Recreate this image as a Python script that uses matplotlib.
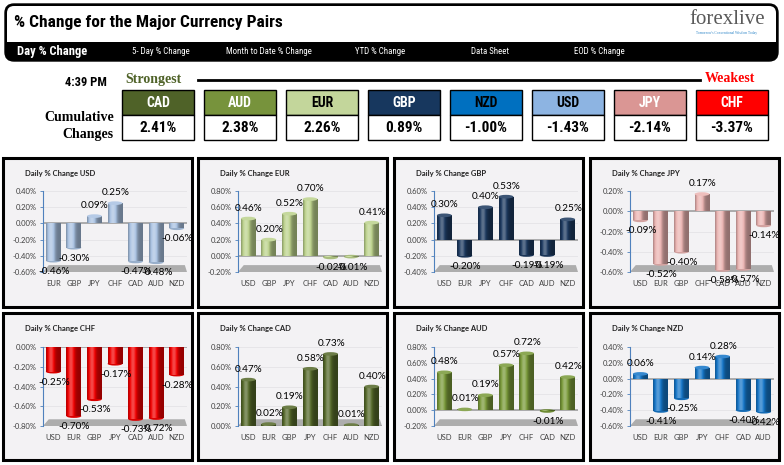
import matplotlib
matplotlib.use('Agg')
import matplotlib.pyplot as plt
import matplotlib.colors as mcolors
from matplotlib.patches import Rectangle, FancyBboxPatch, Polygon, Ellipse
from matplotlib.ticker import MultipleLocator, FuncFormatter
import numpy as np

# cumulative changes, strongest -> weakest
rank_ccy = ['CAD', 'AUD', 'EUR', 'GBP', 'NZD', 'USD', 'JPY', 'CHF']
rank_chg = [2.41, 2.38, 2.26, 0.89, -1.00, -1.43, -2.14, -3.37]

# daily % change of each currency vs the others
usd_cats = ['EUR', 'GBP', 'JPY', 'CHF', 'CAD', 'AUD', 'NZD']
usd_vals = [-0.46, -0.30, 0.09, 0.25, -0.47, -0.48, -0.06]
eur_cats = ['USD', 'GBP', 'JPY', 'CHF', 'CAD', 'AUD', 'NZD']
eur_vals = [0.46, 0.20, 0.52, 0.70, -0.02, -0.01, 0.41]
gbp_cats = ['USD', 'EUR', 'JPY', 'CHF', 'CAD', 'AUD', 'NZD']
gbp_vals = [0.30, -0.20, 0.40, 0.53, -0.19, -0.19, 0.25]
jpy_cats = ['USD', 'EUR', 'GBP', 'CHF', 'CAD', 'AUD', 'NZD']
jpy_vals = [-0.09, -0.52, -0.40, 0.17, -0.58, -0.57, -0.14]
chf_cats = ['USD', 'EUR', 'GBP', 'JPY', 'CAD', 'AUD', 'NZD']
chf_vals = [-0.25, -0.70, -0.53, -0.17, -0.73, -0.72, -0.28]
cad_cats = ['USD', 'EUR', 'GBP', 'JPY', 'CHF', 'AUD', 'NZD']
cad_vals = [0.47, 0.02, 0.19, 0.58, 0.73, 0.01, 0.40]
aud_cats = ['USD', 'EUR', 'GBP', 'JPY', 'CHF', 'CAD', 'NZD']
aud_vals = [0.48, 0.01, 0.19, 0.57, 0.72, -0.01, 0.42]
nzd_cats = ['USD', 'EUR', 'GBP', 'JPY', 'CHF', 'CAD', 'AUD']
nzd_vals = [0.06, -0.41, -0.25, 0.14, 0.28, -0.40, -0.42]

ccy_color = {'CAD': '#4F6228', 'AUD': '#77933C', 'EUR': '#C3D69B', 'GBP': '#17375E',
             'NZD': '#0070C0', 'USD': '#8DB4E2', 'JPY': '#DA9694', 'CHF': '#FF0000'}
bar_color = {'USD': '#A9C2E2', 'EUR': '#BCD28C', 'GBP': '#1D3A60', 'JPY': '#EBB4B2',
             'CHF': '#F20000', 'CAD': '#55692A', 'AUD': '#7A9A3A', 'NZD': '#1576C8'}
white_head = ['CAD', 'AUD', 'GBP', 'JPY', 'CHF']

NARROW = ['Liberation Sans Narrow', 'Roboto Condensed', 'Open Sans Condensed', 'Roboto', 'DejaVu Sans']
SERIF = ['Liberation Serif', 'DejaVu Serif']
SMALL = ['Lato', 'DejaVu Sans']

W, H = 784, 465
fig = plt.figure(figsize=(W / 100, H / 100), dpi=100)
bg = fig.add_axes([0, 0, 1, 1])
bg.set_xlim(0, W)
bg.set_ylim(H, 0)
bg.axis('off')

# ---- header ----
bg.add_patch(FancyBboxPatch((5, 4), 773, 57, boxstyle='round,pad=0,rounding_size=9',
                            fc='black', ec='black', lw=1))
bg.add_patch(FancyBboxPatch((7, 6), 769, 34, boxstyle='round,pad=0,rounding_size=7',
                            fc='white', ec='none'))
bg.add_patch(Rectangle((7, 25), 769, 17, fc='white', ec='none'))
bg.text(14, 22, '% Change for the Major Currency Pairs', fontsize=12.5, fontweight='heavy',
        family=NARROW, va='center')
bg.text(727, 19, 'forexlive', fontsize=15, family=SERIF, color='#5A5A5A', ha='center', va='center')
bg.text(727, 33, "Tomorrow's Conventional Wisdom Today", fontsize=2.6, family=SERIF,
        color='#2E86C8', ha='center', va='center')

bg.text(17, 52, 'Day % Change', fontsize=9, fontweight='bold', family=NARROW, color='white', va='center')
nav = [(132, '5- Day % Change'), (226, 'Month to Date % Change'), (355, 'YTD % Change'),
       (471, 'Data Sheet'), (574, 'EOD % Change')]
for x, s in nav:
    bg.text(x, 52, s, fontsize=6.4, family=NARROW, color='white', va='center')

bg.text(86, 83, '4:39 PM', fontsize=9, fontweight='bold', family=NARROW, ha='center', va='center')
bg.text(125, 79, 'Strongest', fontsize=10, fontweight='bold', family=SERIF, color='#4F6228', va='center')
bg.text(705, 79, 'Weakest', fontsize=10, fontweight='bold', family=SERIF, color='#FF0000', va='center')
bg.plot([198, 700], [80, 80], color='black', lw=2)
bg.text(114, 117, 'Cumulative', fontsize=10, fontweight='bold', family=SERIF, ha='right', va='center')
bg.text(114, 134, 'Changes', fontsize=10, fontweight='bold', family=SERIF, ha='right', va='center')

for i, (c, v) in enumerate(zip(rank_ccy, rank_chg)):
    x = 122 + 82 * i
    bg.add_patch(Rectangle((x, 90.5), 72, 24.5, fc=ccy_color[c], ec='black', lw=1))
    bg.add_patch(Rectangle((x, 115), 72, 25, fc='white', ec='black', lw=1))
    bg.text(x + 36, 103, c, fontsize=10, fontweight='heavy', family=NARROW, ha='center', va='center',
            color='white' if c in white_head else 'black')
    bg.text(x + 36, 128, f'{v:.2f}%', fontsize=11, fontweight='heavy', family=NARROW,
            ha='center', va='center')


def shade(base, k):
    if k > 1:
        return base + (1 - base) * min(k - 1, 1) * 0.9
    return base * k


def cylinder(ax, patch, color, cap_h, positive):
    base = np.array(mcolors.to_rgb(color))
    t = np.linspace(0, 1, 60)
    f = 0.62 + 0.7 * np.exp(-((t - 0.33) / 0.25) ** 2)
    img = np.array([shade(base, k) for k in f])[None, :, :]
    x0, y0 = patch.get_x(), patch.get_y()
    w, h = patch.get_width(), patch.get_height()
    im = ax.imshow(img, extent=(x0, x0 + w, min(y0, y0 + h), max(y0, y0 + h)),
                   aspect='auto', zorder=3, interpolation='bilinear')
    im.set_clip_path(patch)
    end = y0 + h
    if positive:
        ax.add_patch(Ellipse((x0 + w / 2, end), w, cap_h, fc=shade(base, 1.15), ec='none', zorder=4))
    else:
        ax.add_patch(Ellipse((x0 + w / 2, end), w, cap_h, fc=shade(base, 0.9), ec='none', zorder=2.9))


panels = [
    ('USD', usd_cats, usd_vals, (-0.6, 0.4)),
    ('EUR', eur_cats, eur_vals, (-0.2, 0.8)),
    ('GBP', gbp_cats, gbp_vals, (-0.4, 0.6)),
    ('JPY', jpy_cats, jpy_vals, (-0.6, 0.2)),
    ('CHF', chf_cats, chf_vals, (-0.8, 0.0)),
    ('CAD', cad_cats, cad_vals, (0.0, 0.8)),
    ('AUD', aud_cats, aud_vals, (-0.2, 0.8)),
    ('NZD', nzd_cats, nzd_vals, (-0.6, 0.4)),
]
col_x = [3, 198, 394, 590]
row_y = [158, 313]
row_h = [149, 147]
ax_top = [191, 347]
ax_bot = [272, 426]

for n, (ccy, cats, vals, (lo, hi)) in enumerate(panels):
    r, c = divmod(n, 4)
    px, py = col_x[c], row_y[r]
    bg.add_patch(Rectangle((px, py), 189, row_h[r], fc='#F3F2F4', ec='black', lw=2.2))
    bg.text(px + 22, py + 15, f'Daily % Change {ccy}', fontsize=5.5, fontweight='bold',
            family=SMALL, color='#222222', va='center')

    left, right = px + 40, px + 184
    ax = fig.add_axes([left / W, 1 - ax_bot[r] / H, (right - left) / W, (ax_bot[r] - ax_top[r]) / H])
    ax.patch.set_alpha(0)
    x = np.arange(len(cats))

    # floor
    ax.add_patch(Polygon([(0, 0), (1, 0), (0.985, 0.085), (0.04, 0.085)], closed=True,
                         transform=ax.transAxes, fc='#ADADAD', ec='none', zorder=1, clip_on=False))
    for t in np.arange(lo, hi + 0.001, 0.2):
        ax.axhline(t, color='#E4E3E6', lw=0.6, zorder=0)
    ax.axhline(0, color='#A0A0A0', lw=1.2, zorder=2)

    bars = ax.bar(x, vals, width=0.72, color='none', edgecolor='none', zorder=3)
    for p, v in zip(bars, vals):
        cylinder(ax, p, bar_color[ccy], 0.045 * (hi - lo), v >= 0)
    for i, v in enumerate(vals):
        ax.annotate(f'{v:.2f}%', (i, v), xytext=(0.5, 7.5 if v >= 0 else -7.5), textcoords='offset points',
                    ha='center', va='center', fontsize=7.2, family=SMALL, color='black', zorder=5)

    ax.set_xlim(-0.5, len(cats) - 0.5)
    ax.set_ylim(lo, hi)
    ax.yaxis.set_major_locator(MultipleLocator(0.2))
    ax.yaxis.set_major_formatter(FuncFormatter(lambda v, p: f'{v:.2f}%'))
    ax.set_xticks(x)
    ax.set_xticklabels(cats)
    for s in ['top', 'right', 'bottom']:
        ax.spines[s].set_visible(False)
    ax.spines['left'].set_color('#4F81BD')
    ax.spines['left'].set_linewidth(0.8)
    ax.tick_params(axis='y', length=2.5, width=0.6, color='#4F81BD', labelsize=5.5,
                   labelcolor='#404040', pad=2)
    ax.tick_params(axis='x', length=0, labelsize=5.5, labelcolor='#404040', pad=6)
    for lab in ax.get_xticklabels() + ax.get_yticklabels():
        lab.set_family(SMALL)

fig.savefig('out.png', dpi=100)
